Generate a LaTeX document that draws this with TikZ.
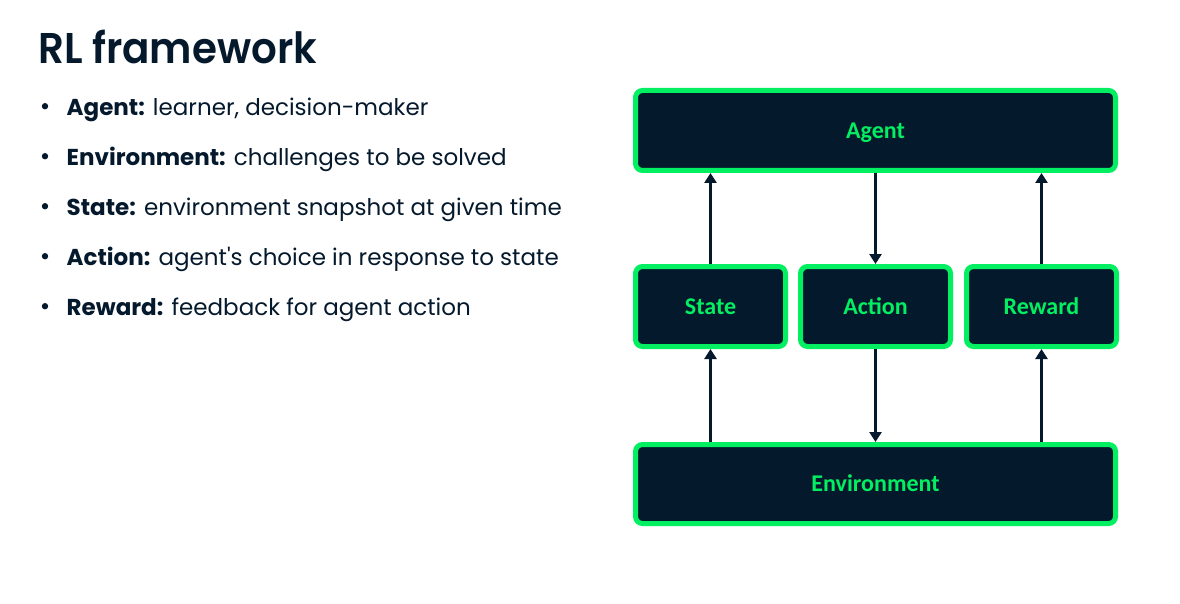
\documentclass[tikz,border=0pt]{standalone}
\usepackage{fontspec}
\setmainfont{Poppins}[Ligatures=TeXOff]
\newfontfamily\titlefont{Poppins SemiBold}
\newfontfamily\boxfont{Carlito}
\usetikzlibrary{arrows.meta}
\definecolor{navy}{HTML}{05192D}
\definecolor{dcgreen}{HTML}{03EF62}
\begin{document}
\begin{tikzpicture}[x=1pt,y=-1pt,
  box/.style={draw=dcgreen, fill=navy, line width=5pt, rounded corners=7pt,
    text=dcgreen, font=\boxfont\bfseries\fontsize{24}{28}\selectfont, inner sep=0pt,
    text height=15.5pt, text depth=0pt, minimum height=80pt},
  wide/.style={box, minimum width=480pt},
  small/.style={box, minimum width=150pt},
  arr/.style={draw=navy, line width=3pt, -{Triangle[width=12pt,length=10pt]}},
  title/.style={anchor=base west, text=navy, font=\titlefont\fontsize{43}{48}\selectfont, inner sep=0pt},
  item/.style={anchor=base west, text=navy, font=\fontsize{23}{28}\selectfont, inner sep=0pt}]
\useasboundingbox (0,0) rectangle (1180,604);
\fill[white] (0,0) rectangle (1180,604);
\node[title] (t) at (38,63.5) {\scalebox{0.94}[1]{RL framework}};
\foreach \y/\a/\b [count=\i] in {115.7/Agent:/{learner, decision-maker},
  165.7/Environment:/{challenges to be solved},
  215.7/State:/{environment snapshot at given time},
  265.7/Action:/{agent's choice in response to state},
  315.7/Reward:/{feedback for agent action}} {
  \fill[navy] (45,\y-9.5) circle (3.2pt);
  \node[item] (i\i) at (66.5,\y) {\textbf{\a} \b};
}
\node[wide] (agent) at (875.5,130.5) {Agent};
\node[small] (state) at (710.5,306.5) {State};
\node[small] (action) at (875.5,306.5) {Action};
\node[small] (reward) at (1041.5,306.5) {Reward};
\node[wide, minimum height=79pt] (env) at (875.5,484) {Environment};
\draw[arr] (state.north) -- (state.north |- agent.south);
\draw[arr] (agent.south) -- (action.north);
\draw[arr] (reward.north) -- (reward.north |- agent.south);
\draw[arr] (state.south |- env.north) -- (state.south);
\draw[arr] (action.south) -- (env.north);
\draw[arr] (reward.south |- env.north) -- (reward.south);
\end{tikzpicture}
\end{document}
